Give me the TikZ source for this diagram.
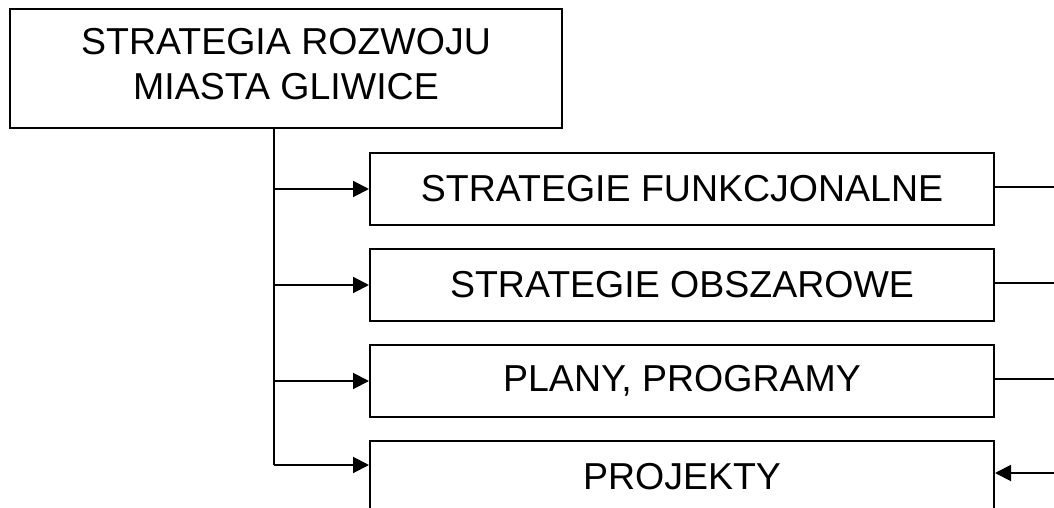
\documentclass[tikz,border=0pt]{standalone}
\usepackage{fontspec}
\setmainfont{Liberation Sans}
\usetikzlibrary{arrows.meta}
\begin{document}
\begin{tikzpicture}[x=1pt,y=-1pt,
  lbl/.style={inner sep=0pt,font=\fontsize{37.5}{45}\selectfont,align=center},
  box/.style={draw,line width=2pt,lbl},
  conn/.style={line width=2pt},
  arr/.style={conn,-{Triangle[length=16pt,width=16pt]}}]
\useasboundingbox (0,0) rectangle (1054,508);
\clip (0,0) rectangle (1054,508);
\node[box,minimum width=552pt,minimum height=119pt] (main) at (286,68.5) {};
\node[lbl] (maintext) at ([yshift=4pt]main.center) {STRATEGIA ROZWOJU\\MIASTA GLIWICE};
\node[box,minimum width=624pt,minimum height=72pt] (f) at (682,189) {STRATEGIE FUNKCJONALNE};
\node[box,minimum width=624pt,minimum height=72pt] (o) at (682,285) {STRATEGIE OBSZAROWE};
\node[box,minimum width=624pt,minimum height=72pt] (pp) at (682,381) {PLANY, PROGRAMY};
\node[box,minimum width=624pt,minimum height=72pt] (pr) at (682,477) {PROJEKTY};
\coordinate (jn) at (274,465);
\coordinate (edge) at (1054,0);
\coordinate (pin) at (1054,473);
\draw[conn] (main.south -| jn) -- (jn);
\draw[arr] (f.west -| jn) -- (f.west);
\draw[arr] (o.west -| jn) -- (o.west);
\draw[arr] (pp.west -| jn) -- (pp.west);
\draw[arr] (jn) -- (jn -| pr.west);
\draw[conn] ([yshift=2pt]f.east) -- ([yshift=2pt]f.east -| edge);
\draw[conn] ([yshift=2pt]o.east) -- ([yshift=2pt]o.east -| edge);
\draw[conn] ([yshift=2pt]pp.east) -- ([yshift=2pt]pp.east -| edge);
\draw[arr] (pin) -- (pin -| pr.east);
\end{tikzpicture}
\end{document}
